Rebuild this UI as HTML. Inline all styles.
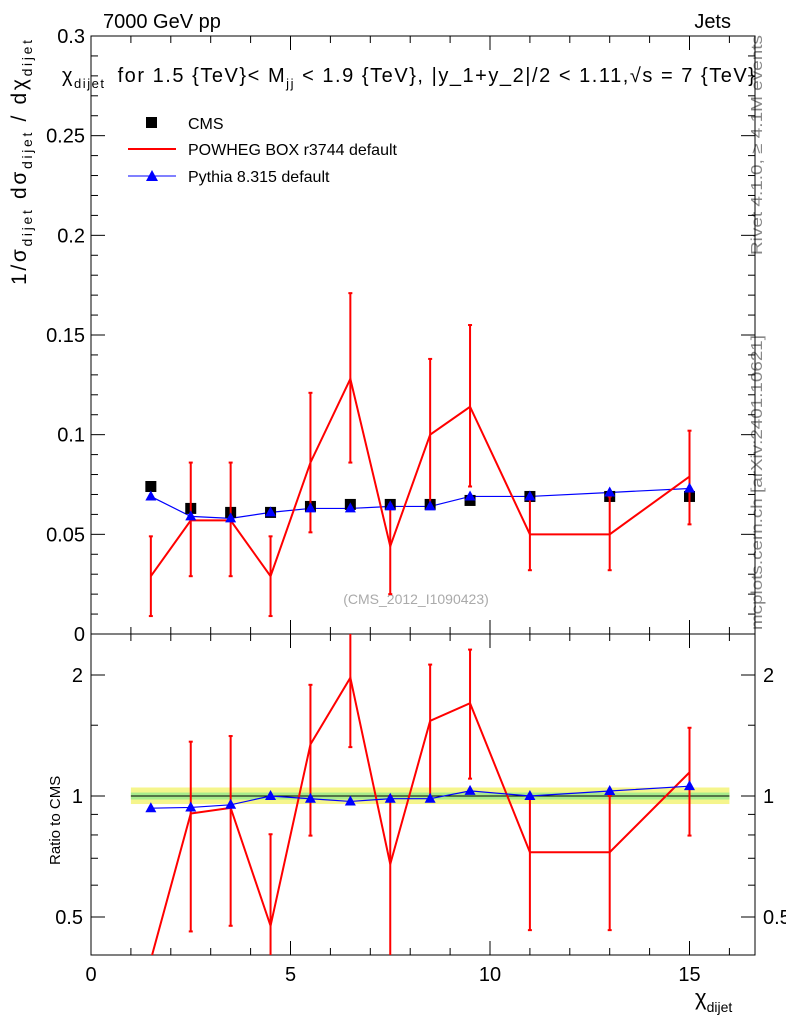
<!DOCTYPE html>
<html><head><meta charset="utf-8"><style>
body{margin:0;background:#fff;width:786px;height:1024px;overflow:hidden}
svg{display:block}
svg text{font-family:"Liberation Sans",sans-serif}
</style></head><body>
<svg id="c" width="786" height="1024">
<text x="103" y="28" font-size="20">7000 GeV pp</text>
<text x="731" y="28" font-size="20" text-anchor="end">Jets</text>
<text x="62" y="82" font-size="20" textLength="693" lengthAdjust="spacing">χ<tspan font-size="13" dy="6">dijet</tspan><tspan dy="-6" dx="12">for 1.5 {TeV}&lt; M</tspan><tspan font-size="13" dy="6">jj</tspan><tspan dy="-6"> &lt; 1.9 {TeV}, |y_1+y_2|/2 &lt; 1.11,√s = 7 {TeV}</tspan></text>
<text transform="translate(26,285) rotate(-90)" font-size="21" textLength="245" lengthAdjust="spacing">1/σ<tspan font-size="14" dy="6">dijet</tspan><tspan dy="-6"> dσ</tspan><tspan font-size="14" dy="6">dijet</tspan><tspan dy="-6"> / dχ</tspan><tspan font-size="14" dy="6">dijet</tspan></text>
<text transform="translate(762,255) rotate(-90)" font-size="16" textLength="220" lengthAdjust="spacingAndGlyphs" fill="#888">Rivet 4.1.0, ≥ 4.1M events</text>
<text transform="translate(762,630) rotate(-90)" font-size="16" textLength="295" lengthAdjust="spacingAndGlyphs" fill="#888">mcplots.cern.ch [arXiv:2401.10621]</text>
<text x="416" y="604" font-size="14" fill="#aaa" text-anchor="middle">(CMS_2012_I1090423)</text>
<text transform="translate(60,865) rotate(-90)" font-size="15">Ratio to CMS</text>
<text x="695" y="1005" font-size="22">χ<tspan font-size="14" dy="7">dijet</tspan></text>
<g>
<rect x="146" y="117" width="11" height="11" fill="#000"/>
<text x="188" y="129" font-size="16">CMS</text>
<line x1="128" y1="149" x2="176" y2="149" stroke="red" stroke-width="2"/>
<text x="188" y="155" font-size="16">POWHEG BOX r3744 default</text>
<line x1="128" y1="176" x2="176" y2="176" stroke="blue" stroke-width="1"/>
<polygon points="152,170 158,181 146,181" fill="blue"/>
<text x="188" y="182" font-size="16">Pythia 8.315 default</text>
</g>
</svg>
<script>
const xs=[1.5,2.5,3.5,4.5,5.5,6.5,7.5,8.5,9.5,11,13,15];
const cms=[0.074,0.063,0.061,0.061,0.064,0.065,0.065,0.065,0.067,0.069,0.069,0.069];
const powheg=[0.029,0.057,0.057,0.029,0.086,0.128,0.044,0.100,0.114,0.050,0.050,0.079];
const powLo=[0.009,0.029,0.029,0.009,0.051,0.086,0.020,0.063,0.074,0.032,0.032,0.055];
const powHi=[0.049,0.086,0.086,0.049,0.121,0.171,0.065,0.138,0.155,0.069,0.069,0.102];
const pythia=[0.069,0.059,0.058,0.061,0.063,0.063,0.064,0.064,0.069,0.069,0.071,0.073];
const mainTicks=[0,0.05,0.1,0.15,0.2,0.25,0.3];
const mainTickLabels=["0","0.05","0.1","0.15","0.2","0.25","0.3"];
const xTicks=[0,5,10,15];
const ratioTicks=[0.5,1,2];
const bandYellow=[0.955,1.05];
const bandGreen=[0.98,1.02];
const svg=document.getElementById('c');const NS='http://www.w3.org/2000/svg';
const L=91,R=755,T=36,B=634,RT=634,RB=955;
const X=v=>L+v*39.9;
const Y=v=>B-v*(B-T)/0.3;
const YR=r=>796-121*Math.log2(r);
function mk(t,a,name){const e=document.createElementNS(NS,t);for(const k in a)e.setAttribute(k,a[k]);


svg.appendChild(e);return e;}
function txt(x,y,s,anchor,name){const e=mk('text',{x:x,y:y,'font-size':20,'text-anchor':anchor},name);e.textContent=s;}
mk('rect',{x:X(1),y:YR(bandYellow[1]),width:X(16)-X(1),height:YR(bandYellow[0])-YR(bandYellow[1]),fill:'#f5f58c'},'cms-band-yellow');
mk('rect',{x:X(1),y:YR(bandGreen[1]),width:X(16)-X(1),height:YR(bandGreen[0])-YR(bandGreen[1]),fill:'#a8ec8c'},'cms-band-green');
mk('line',{x1:X(1),x2:X(16),y1:YR(1),y2:YR(1),stroke:'#000','stroke-width':1},'cms-ratio-line');
mk('rect',{x:L,y:T,width:R-L,height:B-T,fill:'none',stroke:'#000','stroke-width':1},'main-frame');
mk('rect',{x:L,y:RT,width:R-L,height:RB-RT,fill:'none',stroke:'#000','stroke-width':1},'ratio-frame');
mainTicks.forEach((v,i)=>{const y=Y(v);
mk('line',{x1:L,x2:L+14,y1:y,y2:y,stroke:'#000'},'y-tick');mk('line',{x1:R,x2:R-14,y1:y,y2:y,stroke:'#000'},'y-tick-right');
txt(L-6,y+7,mainTickLabels[i],'end','y-tick-label');
if(i<mainTicks.length-1)for(let k=1;k<5;k++){const yy=Y(v+k*0.01);mk('line',{x1:L,x2:L+7,y1:yy,y2:yy,stroke:'#000'},'y-minor-tick');mk('line',{x1:R,x2:R-7,y1:yy,y2:yy,stroke:'#000'},'y-minor-tick-right');}});
ratioTicks.forEach(v=>{const y=YR(v);mk('line',{x1:L,x2:L+14,y1:y,y2:y,stroke:'#000'},'ratio-tick');mk('line',{x1:R,x2:R-14,y1:y,y2:y,stroke:'#000'},'ratio-tick-right');
txt(L-8,y+7,String(v),'end','ratio-tick-label');txt(R+8,y+7,String(v),'start','ratio-tick-label-right');});
[0.6,0.7,0.8,0.9,1.5].forEach(v=>{const y=YR(v);mk('line',{x1:L,x2:L+7,y1:y,y2:y,stroke:'#000'},'ratio-minor-tick');mk('line',{x1:R,x2:R-7,y1:y,y2:y,stroke:'#000'},'ratio-minor-tick-right');});
for(let v=0;v<=16.5;v+=0.5){const maj=v%5===0,big=maj?14:(v%1===0?7:0);if(!big)continue;const x=X(v);
[[T,1],[B,-1],[RT,1],[RB,-1]].forEach(([y,d])=>mk('line',{x1:x,x2:x,y1:y,y2:y+d*big,stroke:'#000'},'x-tick'));}
xTicks.forEach(v=>txt(X(v),RB+26,String(v),'middle','x-tick-label'));
const defs=mk('defs',{},'defs');
const cp=document.createElementNS(NS,'clipPath');cp.setAttribute('id','rc');const cr=document.createElementNS(NS,'rect');
cr.setAttribute('x',L);cr.setAttribute('y',RT);cr.setAttribute('width',R-L);cr.setAttribute('height',RB-RT);cp.appendChild(cr);defs.appendChild(cp);
mk('polyline',{points:xs.map((x,i)=>X(x)+','+Y(pythia[i])).join(' '),fill:'none',stroke:'blue','stroke-width':1.2},'pythia-line');
xs.forEach((x,i)=>mk('rect',{x:X(x)-5.5,y:Y(cms[i])-5.5,width:11,height:11,fill:'#000'},'cms-point'));
xs.forEach((x,i)=>{mk('line',{x1:X(x),x2:X(x),y1:Y(powLo[i]),y2:Y(powHi[i]),stroke:'red','stroke-width':2},'powheg-errorbar');
[powLo[i],powHi[i]].forEach(v=>mk('line',{x1:X(x)-2,x2:X(x)+2,y1:Y(v),y2:Y(v),stroke:'red','stroke-width':2},'powheg-errorcap'));});
mk('polyline',{points:xs.map((x,i)=>X(x)+','+Y(powheg[i])).join(' '),fill:'none',stroke:'red','stroke-width':2},'powheg-line');
xs.forEach((x,i)=>{const cx=X(x),cy=Y(pythia[i]);mk('polygon',{points:`${cx},${cy-6} ${cx+5.5},${cy+4} ${cx-5.5},${cy+4}`,fill:'blue'},'pythia-point');});
const g=mk('g',{'clip-path':'url(#rc)'},'ratio-series');
function rk(t,a,name){const e=mk(t,a,name);g.appendChild(e);return e;}
xs.forEach((x,i)=>{const lo=powLo[i]/cms[i],hi=powHi[i]/cms[i];if(powheg[i]/cms[i]<0.41)return;
rk('line',{x1:X(x),x2:X(x),y1:YR(lo),y2:YR(hi),stroke:'red','stroke-width':2},'powheg-ratio-errorbar');
[lo,hi].forEach(v=>rk('line',{x1:X(x)-2,x2:X(x)+2,y1:YR(v),y2:YR(v),stroke:'red','stroke-width':2},'powheg-ratio-errorcap'));});
rk('polyline',{points:xs.map((x,i)=>X(x)+','+YR(powheg[i]/cms[i])).join(' '),fill:'none',stroke:'red','stroke-width':2},'powheg-ratio-line');
rk('polyline',{points:xs.map((x,i)=>X(x)+','+YR(pythia[i]/cms[i])).join(' '),fill:'none',stroke:'blue','stroke-width':1.2},'pythia-ratio-line');
xs.forEach((x,i)=>{const cx=X(x),cy=YR(pythia[i]/cms[i]);rk('polygon',{points:`${cx},${cy-6} ${cx+5.5},${cy+4} ${cx-5.5},${cy+4}`,fill:'blue'},'pythia-ratio-point');});
</script>
</body></html>
